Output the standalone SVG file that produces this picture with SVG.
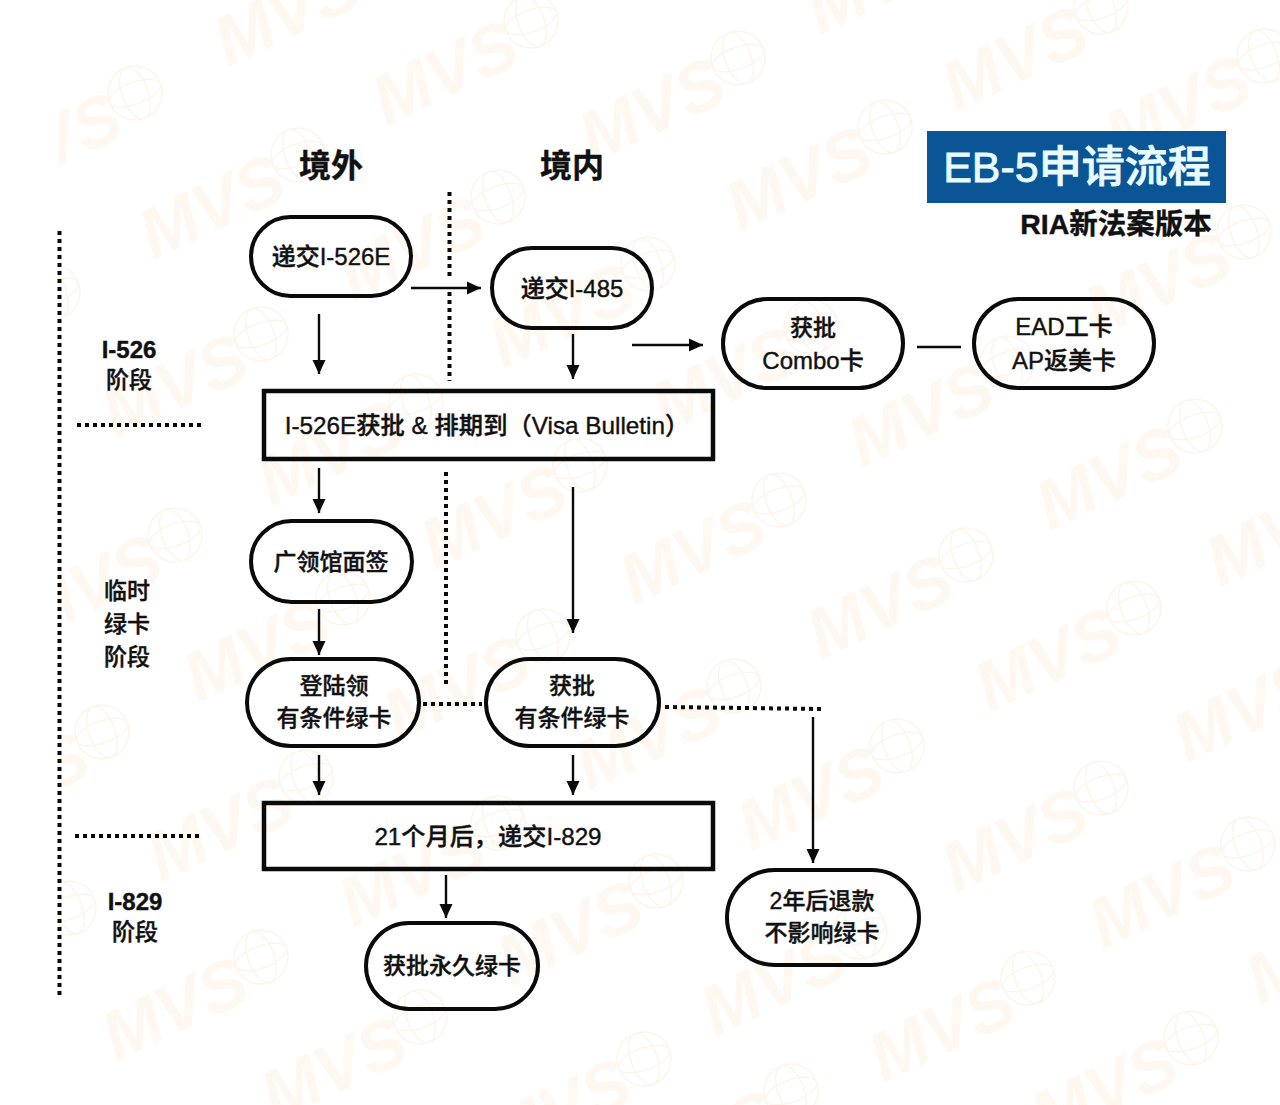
<svg xmlns="http://www.w3.org/2000/svg" width="1280" height="1105" viewBox="0 0 1280 1105">
<style>
text{font-family:"Liberation Sans","Noto Sans CJK SC",sans-serif;fill:#111;stroke:#111;stroke-width:.4;text-anchor:middle;font-weight:500}
.b{font-weight:700}
.s24{font-size:24px}
.s23{font-size:23px}
.pill,.box{fill:none;stroke:#0a0a0a;stroke-width:4}
.box{stroke-width:4.5}
.ln{fill:none;stroke:#0a0a0a;stroke-width:2.4}
.dot{fill:none;stroke:#0a0a0a;stroke-width:4;stroke-dasharray:4 4}
.wt{font-family:"Liberation Sans",sans-serif;font-weight:700;font-style:italic;font-size:70px;fill:#fff8f0;stroke:none;text-anchor:start}
.gl{fill:none;stroke:#fdf5ec;stroke-width:1.5}
</style>
<defs>
<marker id="ah" markerUnits="userSpaceOnUse" markerWidth="15" markerHeight="14" refX="14" refY="7" orient="auto"><path d="M0 0.5L14 7L0 13.5z" fill="#0a0a0a"/></marker>
<clipPath id="wc"><rect x="58" y="0" width="1222" height="1105"/></clipPath>
<g id="wm">
<text class="wt" transform="translate(-145 105) rotate(-25)">MVS</text>
<g class="gl" transform="rotate(-20)"><circle r="27"/><ellipse rx="13" ry="27"/><ellipse rx="27" ry="11"/></g>
</g>
</defs>
<rect width="1280" height="1105" fill="#fff"/>
<g id="watermarks" clip-path="url(#wc)">
<use href="#wm" x="135" y="93"/><use href="#wm" x="298" y="155"/><use href="#wm" x="531" y="21"/><use href="#wm" x="498" y="197"/><use href="#wm" x="261" y="334"/><use href="#wm" x="416" y="401"/><use href="#wm" x="580" y="465"/><use href="#wm" x="175" y="535"/><use href="#wm" x="53" y="292"/>
<use href="#wm" x="738" y="58"/><use href="#wm" x="885" y="127"/><use href="#wm" x="1101" y="7"/><use href="#wm" x="1244" y="232"/><use href="#wm" x="1264" y="56"/><use href="#wm" x="648" y="264"/><use href="#wm" x="811" y="327"/><use href="#wm" x="1007" y="363"/><use href="#wm" x="1195" y="426"/><use href="#wm" x="779" y="500"/><use href="#wm" x="966" y="555"/>
<use href="#wm" x="343" y="598"/><use href="#wm" x="102" y="732"/><use href="#wm" x="543" y="636"/><use href="#wm" x="306" y="777"/><use href="#wm" x="498" y="823"/><use href="#wm" x="261" y="957"/><use href="#wm" x="420" y="1017"/><use href="#wm" x="644" y="1059"/><use href="#wm" x="69" y="908"/>
<use href="#wm" x="734" y="686"/><use href="#wm" x="1134" y="608"/><use href="#wm" x="897" y="746"/><use href="#wm" x="1101" y="788"/><use href="#wm" x="1248" y="844"/><use href="#wm" x="656" y="881"/><use href="#wm" x="860" y="932"/><use href="#wm" x="1028" y="978"/><use href="#wm" x="1191" y="1038"/><use href="#wm" x="791" y="1091"/>
<use href="#wm" x="373" y="-38"/><use href="#wm" x="965" y="-70"/><use href="#wm" x="1365" y="482"/><use href="#wm" x="1332" y="658"/><use href="#wm" x="1405" y="900"/>
</g>
<g id="connectors">
<path class="dot" d="M59.5 231V995"/>
<path class="dot" d="M77 425H203"/>
<path class="dot" d="M75 836H201"/>
<path class="dot" d="M449.5 192V278"/>
<path class="dot" d="M449.5 292V381"/>
<path class="dot" d="M446 472V687"/>
<path class="dot" d="M423 704H482"/>
<path class="dot" d="M665 707L822 709"/>
<path class="ln" marker-end="url(#ah)" d="M319 314V374"/>
<path class="ln" marker-end="url(#ah)" d="M411 288H481"/>
<path class="ln" marker-end="url(#ah)" d="M573 334V379"/>
<path class="ln" marker-end="url(#ah)" d="M632 345H703"/>
<path class="ln" d="M917 347H961"/>
<path class="ln" marker-end="url(#ah)" d="M319 468V513"/>
<path class="ln" marker-end="url(#ah)" d="M573 487V633"/>
<path class="ln" marker-end="url(#ah)" d="M319 609V655"/>
<path class="ln" marker-end="url(#ah)" d="M319 755V795"/>
<path class="ln" marker-end="url(#ah)" d="M573 755V795"/>
<path class="ln" marker-end="url(#ah)" d="M813 717V863"/>
<path class="ln" marker-end="url(#ah)" d="M446 875V918"/>
</g>
<g id="title">
<rect x="927" y="131" width="299" height="72" fill="#0a5596"/>
<text x="1077" y="182" font-size="43" style="fill:#e9fbff;stroke:#e9fbff;stroke-width:.8">EB-5申请流程</text>
<text class="b" x="1116" y="234" font-size="28.5">RIA新法案版本</text>
</g>
<g id="col-outside"><text class="b" x="331" y="177" font-size="32">境外</text></g>
<g id="col-inside"><text class="b" x="572" y="177" font-size="32">境内</text></g>
<g id="stage-i526"><text class="b s24" x="129" y="358">I-526</text><text class="s23" x="129" y="388">阶段</text></g>
<g id="stage-temp"><text class="s23" x="127" y="599">临时</text><text class="s23" x="127" y="632">绿卡</text><text class="s23" x="127" y="665">阶段</text></g>
<g id="stage-i829"><text class="b s24" x="135" y="910">I-829</text><text class="s23" x="135" y="940">阶段</text></g>
<g id="n-i526e"><rect class="pill" x="251" y="217" width="160" height="79" rx="39.5"/><text class="s24" x="331" y="265">递交I-526E</text></g>
<g id="n-i485"><rect class="pill" x="492" y="248" width="160" height="80" rx="40"/><text class="s24" x="572" y="297">递交I-485</text></g>
<g id="n-combo"><rect class="pill" x="723" y="299" width="180" height="89" rx="44.5"/><text class="s23" x="813" y="336">获批</text><text class="s24" x="813" y="369">Combo卡</text></g>
<g id="n-ead"><rect class="pill" x="974" y="299" width="180" height="89" rx="44.5"/><text class="s24" x="1064" y="335">EAD工卡</text><text class="s24" x="1064" y="369">AP返美卡</text></g>
<g id="n-approved"><rect class="box" x="264" y="391" width="449" height="68"/><text font-size="24.3" x="487" y="434">I-526E获批 &amp; 排期到（Visa Bulletin）</text></g>
<g id="n-interview"><rect class="pill" x="251" y="521" width="161" height="81" rx="40.5"/><text class="s23" x="331" y="570">广领馆面签</text></g>
<g id="n-land"><rect class="pill" x="247" y="659" width="172" height="87" rx="43.5"/><text class="s23" x="334" y="694">登陆领</text><text class="s23" x="334" y="726">有条件绿卡</text></g>
<g id="n-cond"><rect class="pill" x="486" y="659" width="173" height="87" rx="43.5"/><text class="s23" x="572" y="694">获批</text><text class="s23" x="572" y="726">有条件绿卡</text></g>
<g id="n-i829"><rect class="box" x="264" y="803" width="449" height="66"/><text font-size="24.2" x="488" y="845">21个月后，递交I-829</text></g>
<g id="n-perm"><rect class="pill" x="366" y="923" width="172" height="86" rx="43"/><text class="s23" x="452" y="974">获批永久绿卡</text></g>
<g id="n-refund"><rect class="pill" x="727" y="870" width="192" height="95" rx="47.5"/><text class="s23" x="822" y="909">2年后退款</text><text class="s23" x="822" y="941">不影响绿卡</text></g>
</svg>
